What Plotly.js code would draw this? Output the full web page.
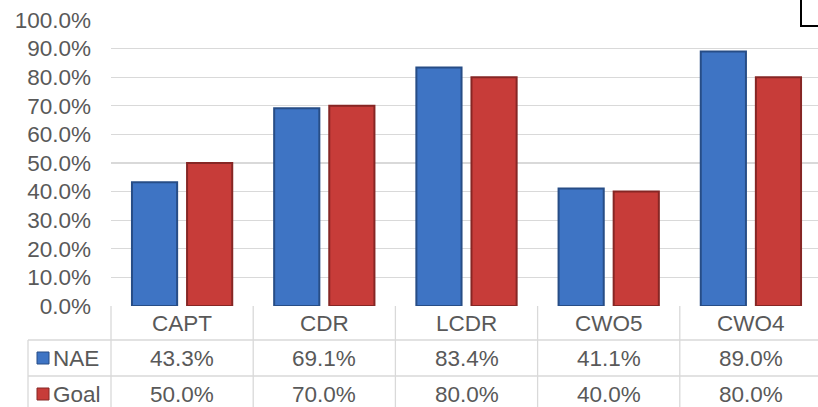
<!DOCTYPE html>
<html>
<head>
<meta charset="utf-8">
<script src="https://cdn.plot.ly/plotly-3.0.1.min.js"></script>
<style>
  html, body { margin: 0; padding: 0; background: #fff; overflow: hidden; }
  #chart { width: 822px; height: 407px; }
</style>
</head>
<body>
<div id="chart"></div>
<script>
// Ranks and their results against the goal (percent)
const categories = ['CAPT', 'CDR', 'LCDR', 'CWO5', 'CWO4'];
const naeValues = [43.3, 69.1, 83.4, 41.1, 89.0];
const goalValues = [50.0, 70.0, 80.0, 40.0, 80.0];
const seriesNames = ['NAE', 'Goal'];

const W = 822, H = 407;
const M = { l: 111, r: 0, t: 20, b: 101 };
const plotW = W - M.l - M.r;
const plotH = H - M.t - M.b;

const textColor = '#595959';
const gridColor = '#d9d9d9';
const fontFamily = 'Liberation Sans, Arial, sans-serif';
const fontSize = 22.5;
const seriesColors = ['#3e74c4', '#c73c39'];
const seriesEdges = ['#274d86', '#862624'];

// pixel offsets below the plot area -> paper units
const py = px => -px / plotH;
const pxX = px => (px - M.l) / plotW;

const traces = [naeValues, goalValues].map((vals, i) => ({
  type: 'bar',
  name: seriesNames[i],
  x: categories,
  y: vals,
  marker: { color: seriesColors[i], line: { color: seriesEdges[i], width: 2 } },
  hoverinfo: 'skip'
}));

// data-table rows beneath the plot
const rowLines = [0, 34, 70, 110];        // header / NAE / Goal boundaries
const rowCenters = [17, 52, 88];
const legendLeft = pxX(28);

const shapes = [];
const line = { color: gridColor, width: 1.3 };
// horizontal rules
shapes.push({ type: 'line', xref: 'paper', yref: 'paper', x0: 0, x1: 1, y0: py(rowLines[1]), y1: py(rowLines[1]), line });
shapes.push({ type: 'line', xref: 'paper', yref: 'paper', x0: legendLeft, x1: 0, y0: py(rowLines[1]), y1: py(rowLines[1]), line });
shapes.push({ type: 'line', xref: 'paper', yref: 'paper', x0: legendLeft, x1: 1, y0: py(rowLines[2]), y1: py(rowLines[2]), line });
// vertical rules between columns
for (let i = 0; i <= categories.length; i++) {
  shapes.push({ type: 'line', xref: 'paper', yref: 'paper', x0: i / categories.length, x1: i / categories.length,
    y0: 0, y1: py(rowLines[3]), line });
}
shapes.push({ type: 'line', xref: 'paper', yref: 'paper', x0: legendLeft, x1: legendLeft,
  y0: py(rowLines[1]), y1: py(rowLines[3]), line });

// legend keys in the table's first column
seriesNames.forEach((n, i) => {
  const cy = rowCenters[i + 1];
  shapes.push({ type: 'rect', xref: 'paper', yref: 'paper',
    x0: pxX(37), x1: pxX(49), y0: py(cy - 6), y1: py(cy + 6),
    fillcolor: seriesColors[i], line: { color: seriesEdges[i], width: 1 } });
});

// corner frame at top right
shapes.push({ type: 'path', xref: 'paper', yref: 'paper',
  path: `M ${pxX(801)} ${(plotH + M.t + 2) / plotH} L ${pxX(801)} ${(plotH - 6) / plotH} L ${pxX(830)} ${(plotH - 6) / plotH}`,
  line: { color: '#000', width: 2 } });

const annotations = [];
const tfont = { family: fontFamily, size: fontSize, color: textColor };
categories.forEach((c, i) => {
  annotations.push({ xref: 'x', yref: 'paper', x: c, y: py(rowCenters[0]), text: c,
    showarrow: false, font: tfont, xanchor: 'center', yanchor: 'middle' });
  [naeValues, goalValues].forEach((vals, s) => {
    annotations.push({ xref: 'x', yref: 'paper', x: c, y: py(rowCenters[s + 1]),
      text: vals[i].toFixed(1) + '%', showarrow: false, font: tfont, xanchor: 'center', yanchor: 'middle' });
  });
});
seriesNames.forEach((n, i) => {
  annotations.push({ xref: 'paper', yref: 'paper', x: pxX(51), y: py(rowCenters[i + 1]), text: n,
    showarrow: false, font: tfont, xanchor: 'left', yanchor: 'middle' });
});

const layout = {
  width: W, height: H,
  margin: M,
  paper_bgcolor: '#fff', plot_bgcolor: '#fff',
  barmode: 'group', bargap: 0.225, bargroupgap: 0.18,
  showlegend: false,
  font: { family: fontFamily, size: fontSize, color: textColor },
  xaxis: { type: 'category', showticklabels: false, showgrid: false, zeroline: false,
    showline: false, ticks: '', range: [-0.5, categories.length - 0.5], fixedrange: true },
  yaxis: { range: [0, 100], dtick: 10, tickformat: '.1f', ticksuffix: '%',
    showgrid: true, gridcolor: gridColor, gridwidth: 1.3, zeroline: false, showline: false,
    ticks: '', ticklabelstandoff: 19, tickfont: { family: fontFamily, size: fontSize, color: textColor },
    fixedrange: true },
  shapes, annotations
};

Plotly.newPlot('chart', traces, layout, { staticPlot: true, displayModeBar: false });
</script>
</body>
</html>
